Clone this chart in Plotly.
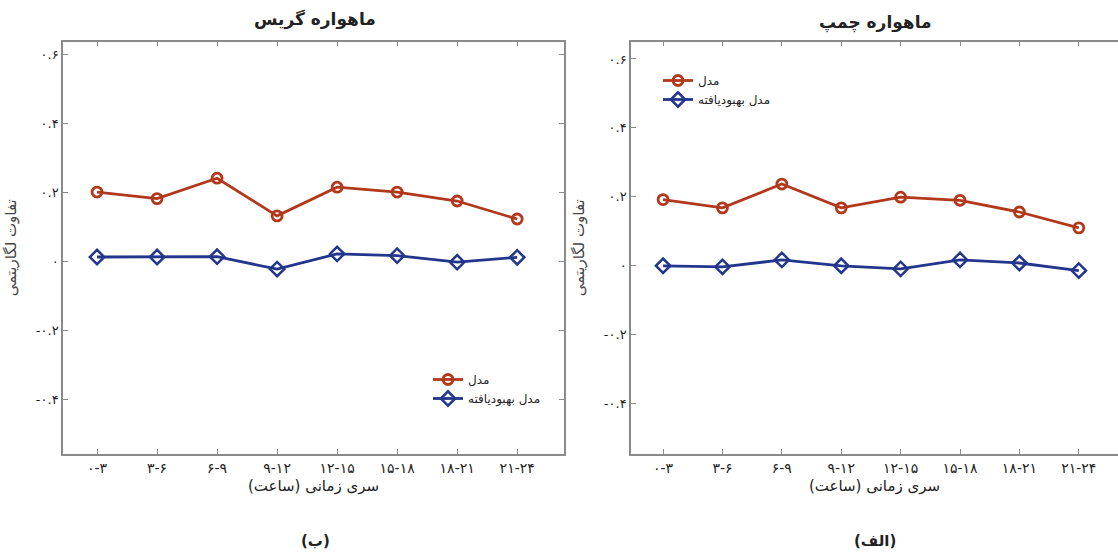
import plotly.graph_objects as go

categories = ["۰-۳", "۳-۶", "۶-۹", "۹-۱۲", "۱۲-۱۵", "۱۵-۱۸", "۱۸-۲۱", "۲۱-۲۴"]
grace_model = [0.201, 0.182, 0.241, 0.132, 0.215, 0.201, 0.175, 0.123]
grace_improved = [0.013, 0.013, 0.014, -0.022, 0.022, 0.017, -0.002, 0.012]
champ_model = [0.192, 0.168, 0.237, 0.168, 0.199, 0.190, 0.156, 0.110]
champ_improved = [0.000, -0.003, 0.017, 0.000, -0.009, 0.017, 0.008, -0.014]
ytick_vals = [-0.4, -0.2, 0, 0.2, 0.4, 0.6]
ytick_text = ["-۰.۴", "-۰.۲", "۰", "۰.۲", "۰.۴", "۰.۶"]
name_model = "مدل"
name_improved = "مدل بهبودیافته"

RED = "#b2381c"
BLUE = "#22368c"
FONT = "DejaVu Sans"

xidx = list(range(len(categories)))

fig = go.Figure()

def add_pair(model, improved, xa, ya, legend):
    fig.add_trace(go.Scatter(
        x=xidx, y=model, mode="lines+markers", name=name_model,
        line=dict(color=RED, width=2.8),
        marker=dict(symbol="circle-open", size=10, color=RED, line=dict(width=2.8)),
        xaxis=xa, yaxis=ya, legend=legend))
    fig.add_trace(go.Scatter(
        x=xidx, y=improved, mode="lines+markers", name=name_improved,
        line=dict(color=BLUE, width=2.8),
        marker=dict(symbol="diamond-open", size=11, color=BLUE, line=dict(width=2.5)),
        xaxis=xa, yaxis=ya, legend=legend))

add_pair(grace_model, grace_improved, "x", "y", "legend")
add_pair(champ_model, champ_improved, "x2", "y2", "legend2")

axcol = "#8a8a8a"
common_x = dict(tickmode="array", tickvals=xidx, ticktext=categories,
                showline=True, linecolor=axcol, linewidth=1.5, mirror="ticks",
                ticks="inside", ticklen=5, tickcolor=axcol, showgrid=False, zeroline=False,
                tickfont=dict(family=FONT, size=14, color="#222"),
                title=dict(text="سری زمانی (ساعت)", font=dict(family=FONT, size=15, color="#222"), standoff=6))
common_y = dict(tickmode="array", tickvals=ytick_vals, ticktext=ytick_text,
                showline=True, linecolor=axcol, linewidth=1.5,
                ticks="inside", ticklen=5, tickcolor=axcol, showgrid=False, zeroline=False,
                tickfont=dict(family=FONT, size=13, color="#222"),
                title=dict(text="تفاوت لگاریتمی", font=dict(family=FONT, size=15, color="#444"), standoff=16))

def label(text, x, y, size):
    return dict(text=text, x=x / 1118, y=1 - y / 554, xref="paper", yref="paper",
                xanchor="center", yanchor="middle", showarrow=False,
                font=dict(family=FONT, size=size, color="#222", weight="bold"))

fig.update_layout(
    width=1118, height=554, paper_bgcolor="white", plot_bgcolor="white",
    margin=dict(l=0, r=0, t=0, b=0),
    xaxis=dict(domain=[63/1118, 564/1118], range=[-0.567, 7.78], anchor="y", **common_x),
    yaxis=dict(domain=[1-454/554, 1-41.7/554], range=[-0.557, 0.636], anchor="x", mirror="ticks", **common_y),
    xaxis2=dict(domain=[631/1118, 1.0], range=[-0.54, 7.66], anchor="y2", **common_x),
    yaxis2=dict(domain=[1-454/554, 1-41.7/554], range=[-0.546, 0.65], anchor="x2", mirror=False, **common_y),
    showlegend=True,
    legend=dict(x=428/1118, y=1-365/554, xanchor="left", yanchor="top", bgcolor="rgba(0,0,0,0)",
                font=dict(family=FONT, size=12, color="#222"), tracegroupgap=0, itemwidth=30),
    legend2=dict(x=658/1118, y=1-66/554, xanchor="left", yanchor="top", bgcolor="rgba(0,0,0,0)",
                 font=dict(family=FONT, size=12, color="#222"), tracegroupgap=0, itemwidth=30),
    annotations=[
        label("ماهواره گریس", 315, 20, 17),
        label("ماهواره چمپ", 875, 22, 17),
        label("(ب)", 315, 541, 15),
        label("(الف)", 875, 541, 15),
    ],
)

fig.write_html("out.html", config={"displayModeBar": False},
               post_script="document.body.style.margin='0';document.body.style.overflow='hidden';")
